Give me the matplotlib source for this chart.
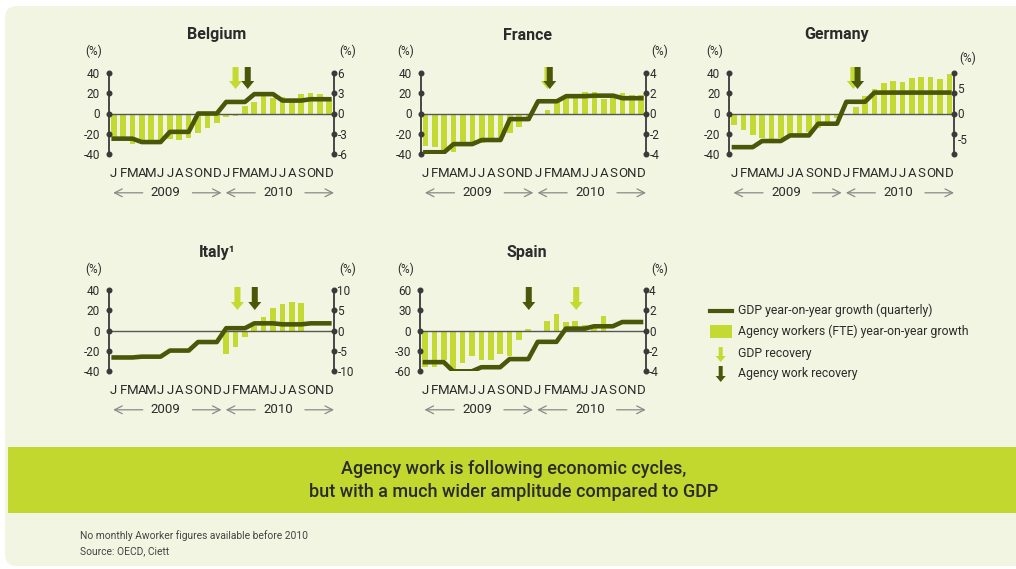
import numpy as np
import matplotlib
matplotlib.use("Agg")
import matplotlib.pyplot as plt
import matplotlib.transforms as mtransforms
from matplotlib.patches import Polygon, Rectangle, FancyBboxPatch
from matplotlib.lines import Line2D

plt.rcParams['font.family'] = ['Roboto', 'DejaVu Sans']

# ---------------- data ----------------
month_labels = list("JFMAMJJASOND") * 2
year_labels = ["2009", "2010"]
nan = np.nan

# GDP year-on-year growth, quarterly (right axis, %), Q1 2009 .. Q4 2010
belgium_gdp = [-3.7, -4.2, -2.7, 0.0, 1.7, 2.85, 1.9, 2.1]
france_gdp = [-3.8, -3.0, -2.6, -0.55, 1.2, 1.7, 1.75, 1.5]
germany_gdp = [-6.6, -5.4, -4.3, -2.0, 2.3, 4.1, 4.1, 4.1]
italy_gdp = [-6.6, -6.4, -4.9, -2.8, 0.6, 1.8, 1.55, 1.8]
spain_gdp = [-3.1, -4.0, -3.6, -2.8, -1.1, 0.2, 0.43, 0.85]

# Agency workers (FTE) year-on-year growth, monthly (left axis, %), Jan 2009 .. Dec 2010
belgium_aw = [-23, -24, -30, -29, -30, -28, -25, -26, -24, -19, -14, -9,
              -3, -2, 7, 11.5, 17, 15, 16, 12, 19, 20, 19, 14]
france_aw = [-32, -33, -36, -38, -32, -31, -29, -26.5, -25, -19.5, -13.5, -7.5,
             0, 3.5, 13, 15, 16, 21, 21, 14, 17, 20, 18, 18]
germany_aw = [-11.5, -16.5, -21.5, -24, -25, -24, -22, -19, -18, -14, -9, -4,
              0, 6.3, 17, 24, 30, 32, 31, 35, 36, 36, 34, 39]
italy_aw = [nan] * 12 + [-23, -16, -6, 5, 13, 22, 26, 28, 27, nan, nan, nan]
spain_aw = [-53, -53, -43, -62, -48, -38, -43, -43, -34.5, -37.5, -13.5, 3,
            0, 14, 24.5, 13, 14, 8, 5, 21.5, nan, nan, nan, nan]

# recovery markers (month index, 0 = Jan 2009)
belgium_recovery = (13.0, 14.3)   # (GDP recovery, agency work recovery)
france_recovery = (13.0, 13.25)
germany_recovery = (12.75, 13.2)
italy_recovery = (13.2, 15.05)
spain_recovery = (16.1, 11.05)

# ---------------- style ----------------
W, H, DPI = 1016, 569, 100
BG = '#f2f5e1'
BAR = '#c4d931'
LINE = '#4a5708'
TXT = '#2b2b2b'
AXC = '#3a3a3a'

fig = plt.figure(figsize=(W / DPI, H / DPI), dpi=DPI)
fig.patch.set_facecolor('white')

# cream rounded panel
fig.add_artist(FancyBboxPatch((5, 3), W + 30, H - 9, boxstyle='round,pad=0,rounding_size=12',
                              transform=mtransforms.IdentityTransform(), facecolor=BG,
                              edgecolor='none', zorder=-10))


def ftext(x, y, s, **kw):
    return fig.text(x / W, 1 - y / H, s, **kw)


def arrow_poly(trans, top, tip, color, shaft=6, head=13, hlen=8, z=6):
    sw, hw = shaft / 2, head / 2
    pts = [(-sw, top), (sw, top), (sw, -tip + hlen), (hw, -tip + hlen), (0, -tip),
           (-hw, -tip + hlen), (-sw, -tip + hlen)]
    poly = Polygon(pts, closed=True, facecolor=color, edgecolor='none', transform=trans, zorder=z)
    fig.add_artist(poly)


def draw_panel(title, gdp, aw, recovery, box, lticks, rlim, rticks, rtick_labels,
               title_xy, arrow_top, arrow_tip, rpct_dy=21):
    x0, y0, x1, y1 = box
    ax = fig.add_axes([x0 / W, 1 - y1 / H, (x1 - x0) / W, (y1 - y0) / H])
    ax.patch.set_visible(False)
    x = np.arange(24)
    ax.bar(x, aw, width=0.6, color=BAR, zorder=2)
    ax.axhline(0, color='#555555', lw=1.0, zorder=3)
    ax.set_xlim(-0.5, 23.5)
    ax.set_ylim(lticks[0], lticks[-1])
    ax.set_xticks([])
    ax.set_yticks(lticks)
    ax.set_yticklabels([str(v) for v in lticks])
    ax.tick_params(axis='y', length=0, pad=6.5, labelsize=8.5, labelcolor=TXT)
    for s in ('top', 'bottom'):
        ax.spines[s].set_visible(False)
    for s in ('left', 'right'):
        ax.spines[s].set_color(AXC)
        ax.spines[s].set_linewidth(1.3)
    for xe in (-0.5, 23.5):
        ax.plot([xe] * len(lticks), lticks, 'o', ms=3.3, color=AXC, clip_on=False, zorder=7)

    ax2 = ax.twinx()
    ax2.set_ylim(*rlim)
    ax2.set_xlim(-0.5, 23.5)
    ax2.plot(x, np.repeat(gdp, 3), color=LINE, lw=3.3, zorder=4, solid_capstyle='projecting')
    for s in ax2.spines.values():
        s.set_visible(False)
    ax2.set_yticks(rticks)
    ax2.set_yticklabels(rtick_labels)
    ax2.tick_params(axis='y', length=0, pad=2.5, labelsize=8.5, labelcolor=TXT)

    # month letters and years
    hpx = y1 - y0
    for i, m in enumerate(month_labels):
        ax.annotate(m, xy=(i, 0), xycoords=('data', 'axes fraction'), xytext=(0, -19 * 0.72),
                    textcoords='offset points', ha='center', va='center', fontsize=9.5, color=TXT)
    ya = -38.5 / hpx
    for k, yl in enumerate(year_labels):
        base = 12 * k
        ax.annotate(yl, xy=(base + 5.55, ya), xycoords=('data', 'axes fraction'),
                    ha='center', va='center', fontsize=9.5, color=TXT)
        ap = dict(arrowstyle='->,head_length=0.55,head_width=0.28', color='#8a8a8a', lw=0.9,
                  shrinkA=0, shrinkB=0)
        ax.annotate('', xy=(base - 0.05, ya), xytext=(base + 3.1, ya),
                    xycoords=('data', 'axes fraction'), textcoords=('data', 'axes fraction'),
                    arrowprops=ap)
        ax.annotate('', xy=(base + 11.5, ya), xytext=(base + 8.4, ya),
                    xycoords=('data', 'axes fraction'), textcoords=('data', 'axes fraction'),
                    arrowprops=ap)

    # recovery arrows
    g_x, a_x = recovery
    tg = mtransforms.Affine2D() + mtransforms.ScaledTranslation(g_x, 1, ax.get_xaxis_transform())
    ta = mtransforms.Affine2D() + mtransforms.ScaledTranslation(a_x, 1, ax.get_xaxis_transform())
    arrow_poly(tg, arrow_top, arrow_tip, BAR, z=6)
    arrow_poly(ta, arrow_top, arrow_tip, LINE, z=7)

    # titles and units
    ftext(title_xy[0], title_xy[1], title, ha='center', va='center', fontsize=11.5,
          fontweight='bold', color=TXT)
    ftext(x0 - 15, y0 - 21, '(%)', ha='center', va='center', fontsize=8.5, color=TXT)
    ftext(x1 + 14, y0 - rpct_dy, '(%)', ha='center', va='center', fontsize=8.5, color=TXT)
    return ax


top_row = (72.7, 154.3)
bot_row = (290.0, 371.3)

draw_panel('Belgium', belgium_gdp, belgium_aw, belgium_recovery, (109, top_row[0], 334, top_row[1]),
           [-40, -20, 0, 20, 40], (-6, 6), [-6, -3, 0, 3, 6], ['-6', '-3', '0', '3', '6'],
           (217, 35), 5.7, 16.3)
draw_panel('France', france_gdp, france_aw, france_recovery, (420.7, top_row[0], 646, top_row[1]),
           [-40, -20, 0, 20, 40], (-4, 4), [-4, -2, 0, 2, 4], ['-4', '-2', '0', '2', '4'],
           (528, 35), 5.7, 16.3)
draw_panel('Germany', germany_gdp, germany_aw, germany_recovery, (729.3, top_row[0], 954, top_row[1]),
           [-40, -20, 0, 20, 40], (-8, 8), [-5, 0, 5], ['-5', '0', '5'],
           (837, 35), 5.7, 16.3, rpct_dy=14)
draw_panel('Italy\u00b9', italy_gdp, italy_aw, italy_recovery, (109, bot_row[0], 334, bot_row[1]),
           [-40, -20, 0, 20, 40], (-10, 10), [-10, -5, 0, 5, 10], ['-10', '-5', '0', '5', '10'],
           (217, 253), 3, 20)
draw_panel('Spain', spain_gdp, spain_aw, spain_recovery, (420.3, bot_row[0], 645.7, bot_row[1]),
           [-60, -30, 0, 30, 60], (-4, 4), [-4, -2, 0, 2, 4], ['-4', '-2', '0', '2', '4'],
           (527, 253), 3, 20)

# ---------------- legend ----------------
fig.add_artist(Line2D([710 / W, 732 / W], [1 - 310.7 / H] * 2, transform=fig.transFigure,
                      color=LINE, lw=3))
fig.add_artist(Rectangle((710 / W, 1 - 338 / H), 22 / W, 13 / H, transform=fig.transFigure,
                         facecolor=BAR, edgecolor='none'))
arrow_poly(mtransforms.Affine2D().translate(720.7, H - 347), 0, 15, BAR, shaft=4, head=10, hlen=6)
arrow_poly(mtransforms.Affine2D().translate(720.7, H - 366), 0, 16, LINE, shaft=4, head=10, hlen=6)
leg_texts = ["GDP year-on-year growth (quarterly)", "Agency workers (FTE) year-on-year growth",
             "GDP recovery", "Agency work recovery"]
for s, yy in zip(leg_texts, [310.5, 331.5, 353, 373]):
    ftext(738, yy, s, ha='left', va='center', fontsize=8.8, color=TXT)

# ---------------- banner ----------------
fig.add_artist(Rectangle((8 / W, 1 - 513 / H), (W - 8) / W, 66 / H, transform=fig.transFigure,
                         facecolor='#c2d82e', edgecolor='none', zorder=-5))
ftext(514, 469, "Agency work is following economic cycles,", ha='center', va='center',
      fontsize=13, fontweight='medium', color=TXT)
ftext(514, 492, "but with a much wider amplitude compared to GDP", ha='center', va='center',
      fontsize=13, fontweight='medium', color=TXT)

# ---------------- footnotes ----------------
ftext(80, 536, "No monthly Aworker figures available before 2010", ha='left', va='center',
      fontsize=7.4, color='#444444')
ftext(80, 551, "Source: OECD, Ciett", ha='left', va='center', fontsize=7.4, color='#444444')

fig.savefig('out.png', dpi=DPI, facecolor=fig.get_facecolor())
